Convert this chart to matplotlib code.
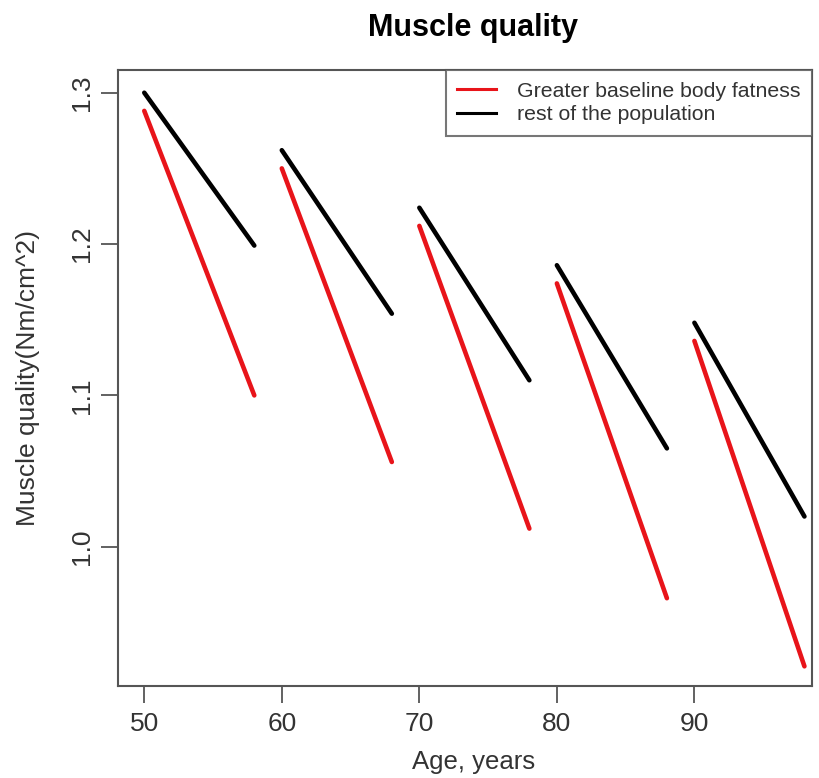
import matplotlib
matplotlib.use("Agg")
import matplotlib.pyplot as plt
from matplotlib.lines import Line2D

plt.rcParams['font.family'] = ['Liberation Sans', 'DejaVu Sans']

# age segments (start, end) and muscle quality at each end
ages_start = [50, 60, 70, 80, 90]
ages_end = [58, 68, 78, 88, 98]
fat_start = [1.288, 1.250, 1.212, 1.174, 1.136]
fat_end = [1.100, 1.056, 1.012, 0.966, 0.921]
rest_start = [1.300, 1.262, 1.224, 1.186, 1.148]
rest_end = [1.199, 1.154, 1.110, 1.065, 1.020]

legend_labels = ['Greater baseline body fatness', 'rest of the population']

fig = plt.figure(figsize=(8.2, 7.78), dpi=100)
ax = fig.add_axes([118 / 820, 1 - 686 / 778, 694 / 820, 616 / 778])

for i in range(len(ages_start)):
    ax.plot([ages_start[i], ages_end[i]], [rest_start[i], rest_end[i]], color='black', lw=3.3, solid_capstyle='round')
    ax.plot([ages_start[i], ages_end[i]], [fat_start[i], fat_end[i]], color='#e8141a', lw=3.3, solid_capstyle='round')

ax.set_xlim(48.09, 98.55)
ax.set_ylim(0.908, 1.315)
ax.set_xticks([50, 60, 70, 80, 90])
ax.set_yticks([1.0, 1.1, 1.2, 1.3])
ax.set_yticklabels(['1.0', '1.1', '1.2', '1.3'], rotation=90, va='center')
ax.tick_params(labelsize=19, length=12, width=1.3, colors='#555555', labelcolor='#333333')
ax.tick_params(axis='x', pad=7)
ax.tick_params(axis='y', pad=5)
for s in ax.spines.values():
    s.set_linewidth(1.5)
    s.set_color('#555555')

ax.set_xlabel('Age, years', fontsize=18.5, color='#333333')
ax.xaxis.set_label_coords(0.512, -0.104)
ax.set_ylabel('Muscle quality(Nm/cm^2)', fontsize=19, color='#333333')
ax.yaxis.set_label_coords(-0.112, 0.5)
fig.text(0.577, 0.964, 'Muscle quality', fontsize=22, fontweight='bold', ha='center', va='center')

handles = [Line2D([0], [0], color='#e8141a', lw=2.2), Line2D([0], [0], color='black', lw=2.2)]
leg = ax.legend(handles, legend_labels, loc='upper right', fontsize=15.3, frameon=True,
                fancybox=False, borderaxespad=0, handlelength=1.8, handletextpad=1.0,
                labelspacing=0.22, borderpad=0.55)
leg.get_frame().set_edgecolor('#555555')
leg.get_frame().set_linewidth(1.5)
for t in leg.get_texts():
    t.set_color('#333333')

fig.savefig('out.png', dpi=100)
